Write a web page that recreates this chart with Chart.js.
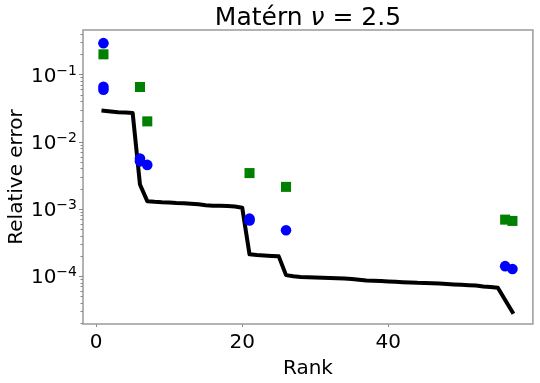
<!DOCTYPE html>
<html>
<head>
<meta charset="utf-8">
<script src="https://cdn.jsdelivr.net/npm/chart.js@4.4.1/dist/chart.umd.min.js"></script>
<style>
  html, body { margin: 0; padding: 0; background: #fff; }
  #wrap { width: 540px; height: 383px; }
</style>
</head>
<body>
<div id="wrap"><canvas id="errChart"></canvas></div>
<script>
// rank 1..57 and the black line (relative error of the low-rank approximation)
const rank = [1, 2, 3, 4, 5, 6, 7, 8, 9, 10, 11, 12, 13, 14, 15, 16, 17, 18, 19, 20,
  21, 22, 23, 24, 25, 26, 27, 28, 29, 30, 31, 32, 33, 34, 35, 36, 37, 38, 39, 40,
  41, 42, 43, 44, 45, 46, 47, 48, 49, 50, 51, 52, 53, 54, 55, 56, 57];
const lineErr = [0.0289, 0.0281, 0.0274, 0.0271, 0.0266, 0.0023, 0.0013, 0.00127, 0.00125, 0.00124,
  0.00122, 0.00121, 0.00119, 0.00117, 0.00113, 0.00111, 0.00111, 0.00110, 0.00108, 0.00104,
  0.00021, 0.000205, 0.000202, 0.000199, 0.000196, 0.000103, 9.9e-5, 9.7e-5, 9.6e-5, 9.5e-5,
  9.4e-5, 9.3e-5, 9.25e-5, 9.2e-5, 9.0e-5, 8.8e-5, 8.6e-5, 8.5e-5, 8.4e-5, 8.3e-5,
  8.2e-5, 8.1e-5, 8.0e-5, 7.9e-5, 7.85e-5, 7.8e-5, 7.7e-5, 7.6e-5, 7.5e-5, 7.4e-5,
  7.3e-5, 7.2e-5, 7.0e-5, 6.85e-5, 6.7e-5, 4.4e-5, 2.9e-5];

// blue circles
const circleRank = [1, 1, 1, 6, 6, 7, 21, 21, 26, 56, 57];
const circleErr = [0.292, 0.0655, 0.0592, 0.00561, 0.00508, 0.0045, 0.000713, 0.000668, 0.00048, 0.00014, 0.000127];

// green squares
const squareRank = [1, 6, 7, 21, 26, 56, 57];
const squareErr = [0.199, 0.065, 0.020, 0.0034, 0.00212, 0.00069, 0.00066];

const yMajor = [1e-4, 1e-3, 1e-2, 1e-1];
const yMajorExp = ['\u22124', '\u22123', '\u22122', '\u22121'];

const FONT = "'DejaVu Sans', sans-serif";

const toPoints = (xs, ys) => xs.map((x, i) => ({ x: x, y: ys[i] }));

const decorations = {
  id: 'decorations',
  afterDraw(chart) {
    const { ctx, chartArea: a } = chart;
    const y = chart.scales.y;
    ctx.save();

    // frame
    ctx.strokeStyle = '#9a9a9a';
    ctx.lineWidth = 1.5;
    ctx.strokeRect(a.left, a.top, a.right - a.left, a.bottom - a.top);

    // y ticks, major and minor
    ctx.strokeStyle = '#888';
    ctx.lineWidth = 1;
    for (let e = -5; e <= 0; e++) {
      for (let m = 1; m <= 9; m++) {
        const v = m * Math.pow(10, e);
        if (v < y.min || v > y.max) continue;
        const py = Math.round(y.getPixelForValue(v)) + 0.5;
        const len = m === 1 ? 4 : 2.5;
        ctx.beginPath();
        ctx.moveTo(a.left, py);
        ctx.lineTo(a.left - len, py);
        ctx.stroke();
      }
    }

    // y tick labels 10^n
    ctx.fillStyle = '#000';
    ctx.textBaseline = 'alphabetic';
    yMajor.forEach((v, i) => {
      const py = y.getPixelForValue(v);
      ctx.font = '14px ' + FONT;
      const supW = ctx.measureText(yMajorExp[i]).width;
      const right = a.left - 6;
      ctx.textAlign = 'left';
      ctx.fillText(yMajorExp[i], right - supW, py + 0.5);
      ctx.font = '20px ' + FONT;
      ctx.textAlign = 'right';
      ctx.fillText('10', right - supW, py + 7.5);
    });

    // y axis title
    ctx.save();
    ctx.translate(21.5, (a.top + a.bottom) / 2);
    ctx.rotate(-Math.PI / 2);
    ctx.font = '20px ' + FONT;
    ctx.textAlign = 'center';
    ctx.fillText('Relative error', 0, 0);
    ctx.restore();

    // chart title, with an italic nu
    const parts = [['Mat\u00e9rn ', ''], ['\u03bd', 'italic '], [' = 2.5', '']];
    let total = 0;
    parts.forEach(p => { ctx.font = p[1] + '25px ' + FONT; total += ctx.measureText(p[0]).width; });
    let tx = (a.left + a.right) / 2 - total / 2;
    ctx.textAlign = 'left';
    parts.forEach(p => {
      ctx.font = p[1] + '25px ' + FONT;
      ctx.fillText(p[0], tx, 25);
      tx += ctx.measureText(p[0]).width;
    });

    ctx.restore();
  }
};

new Chart(document.getElementById('errChart'), {
  type: 'scatter',
  data: {
    datasets: [
      {
        data: toPoints(circleRank, circleErr),
        pointStyle: 'circle',
        pointRadius: 5.3,
        backgroundColor: 'blue',
        borderWidth: 0,
        order: 1
      },
      {
        data: toPoints(squareRank, squareErr),
        pointStyle: 'rect',
        pointRadius: 7.1,
        backgroundColor: 'green',
        borderWidth: 0,
        order: 2
      },
      {
        type: 'line',
        data: toPoints(rank, lineErr),
        showLine: true,
        borderColor: '#000',
        borderWidth: 4,
        borderCapStyle: 'square',
        borderJoinStyle: 'round',
        pointRadius: 0,
        tension: 0,
        fill: false,
        order: 3
      }
    ]
  },
  options: {
    responsive: true,
    maintainAspectRatio: false,
    animation: false,
    devicePixelRatio: 1,
    layout: { padding: { left: 83, right: 5, top: 30, bottom: 0 } },
    plugins: {
      legend: { display: false },
      tooltip: { enabled: false },
      title: { display: false }
    },
    scales: {
      x: {
        type: 'linear',
        min: -1.8,
        max: 59.8,
        grid: { drawOnChartArea: false, drawTicks: true, tickLength: 3, tickColor: '#888' },
        border: { display: false },
        ticks: {
          stepSize: 20,
          includeBounds: false,
          padding: 4,
          color: '#000',
          font: { family: FONT, size: 20, lineHeight: 1.2 }
        },
        title: {
          display: true,
          text: 'Rank',
          color: '#000',
          font: { family: FONT, size: 20, lineHeight: 1 },
          padding: { top: 0, bottom: 4 }
        }
      },
      y: {
        type: 'logarithmic',
        min: 1.93e-5,
        max: 0.458,
        display: false
      }
    }
  },
  plugins: [decorations]
});
</script>
</body>
</html>
